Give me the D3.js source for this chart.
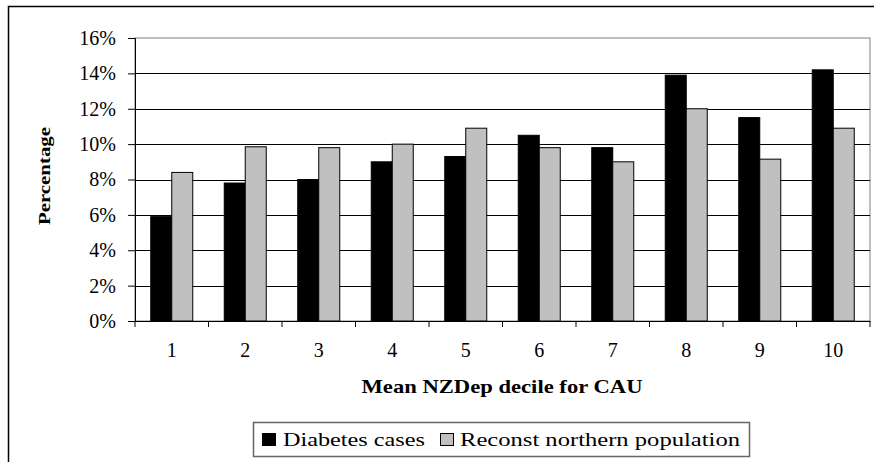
<!DOCTYPE html>
<html><head><meta charset="utf-8">
<script src="https://cdn.jsdelivr.net/npm/d3@7"></script>
<style>body{margin:0;background:#fff}svg{display:block}</style>
</head><body>
<svg id="c" width="874" height="462"></svg>
<script>
const categories = ["1","2","3","4","5","6","7","8","9","10"];
const diabetesCases = [5.9, 7.8, 8.0, 9.0, 9.3, 10.5, 9.8, 13.9, 11.5, 14.2];
const reconstPopulation = [8.4, 9.85, 9.8, 10.0, 10.9, 9.8, 9.0, 12.0, 9.15, 10.9];
const seriesNames = ["Diabetes cases", "Reconst northern population"];
const seriesColors = ["#000000", "#c0c0c0"];
const yTicks = [0, 2, 4, 6, 8, 10, 12, 14, 16];

const svg = d3.select("#c");
const font = "'Liberation Serif','Times New Roman',serif";
const L = 135, R = 870, T = 38, B = 321;

// outer border
svg.append("rect").attr("x", 8.5).attr("y", 6.5).attr("width", 880).attr("height", 470)
  .attr("fill", "none").attr("stroke", "#000").attr("stroke-width", 1.5);

const x = d3.scaleBand().domain(categories).range([L, R]).paddingInner(0).paddingOuter(0);
const y = d3.scaleLinear().domain([0, 16]).range([B, T]);
const xs = d3.scaleBand().domain([0, 1]).range([0, x.bandwidth()]).paddingInner(0).paddingOuter(0.75);

// plot area border (gray)
svg.append("rect").attr("x", L).attr("y", T).attr("width", R - L).attr("height", B - T)
  .attr("fill", "#fff").attr("stroke", "#808080").attr("stroke-width", 1);

// gridlines
svg.append("g").selectAll("line").data(yTicks.filter(d => d > 0 && d < 16)).join("line")
  .attr("x1", L).attr("x2", R).attr("y1", d => Math.round(y(d)) + 0.5).attr("y2", d => Math.round(y(d)) + 0.5)
  .attr("stroke", "#000").attr("stroke-width", 1);

// bars
const series = [diabetesCases, reconstPopulation];
series.forEach((vals, si) => {
  svg.append("g").selectAll("rect").data(vals).join("rect")
    .attr("x", (d, i) => x(categories[i]) + xs(si))
    .attr("y", d => y(d))
    .attr("width", xs.bandwidth())
    .attr("height", d => B - y(d))
    .attr("fill", seriesColors[si])
    .attr("stroke", "#000").attr("stroke-width", 1);
});

// y axis
const yAxis = d3.axisLeft(y).tickValues(yTicks).tickFormat(d => d + "%").tickSize(7).tickPadding(12);
const gy = svg.append("g").attr("transform", `translate(${L},0)`).call(yAxis);
gy.select(".domain").attr("stroke", "#000");
gy.selectAll("line").attr("stroke", "#000");
gy.selectAll("text").attr("font-family", font).attr("font-size", 20).attr("fill", "#000");

// x axis
const xAxis = d3.axisBottom(x).tickSize(0).tickPadding(22);
const gx = svg.append("g").attr("transform", `translate(0,${B})`).call(xAxis);
gx.select(".domain").attr("stroke", "#000");
gx.selectAll("text").attr("font-family", font).attr("font-size", 20).attr("fill", "#000");
// category boundary ticks
gx.append("g").selectAll("line").data(categories.concat(["end"])).join("line")
  .attr("x1", (d, i) => i < categories.length ? x(d) : R)
  .attr("x2", (d, i) => i < categories.length ? x(d) : R)
  .attr("y1", 0).attr("y2", 6).attr("stroke", "#000");

// axis titles
svg.append("text").attr("transform", `translate(50,176) rotate(-90)`)
  .attr("text-anchor", "middle").attr("font-family", font).attr("font-weight", "bold")
  .attr("font-size", 17).attr("textLength", 98).attr("lengthAdjust", "spacingAndGlyphs").text("Percentage");
svg.append("text").attr("x", 502).attr("y", 393)
  .attr("text-anchor", "middle").attr("font-family", font).attr("font-weight", "bold")
  .attr("font-size", 19).attr("textLength", 281).attr("lengthAdjust", "spacingAndGlyphs").text("Mean NZDep decile for CAU");

// legend
const lg = svg.append("g");
lg.append("rect").attr("x", 253.5).attr("y", 422.5).attr("width", 496).attr("height", 34)
  .attr("fill", "#fff").attr("stroke", "#666").attr("stroke-width", 1.5);
const items = [{x: 262, tx: 283, len: 142}, {x: 440, tx: 460, len: 280}];
seriesNames.forEach((n, i) => {
  lg.append("rect").attr("x", items[i].x + 0.5).attr("y", 433.5).attr("width", 13).attr("height", 12)
    .attr("fill", seriesColors[i]).attr("stroke", "#000").attr("stroke-width", 1);
  lg.append("text").attr("x", items[i].tx).attr("y", 446).attr("font-family", font)
    .attr("font-size", 19).attr("textLength", items[i].len).attr("lengthAdjust", "spacingAndGlyphs").text(n);
});
</script>
</body></html>
